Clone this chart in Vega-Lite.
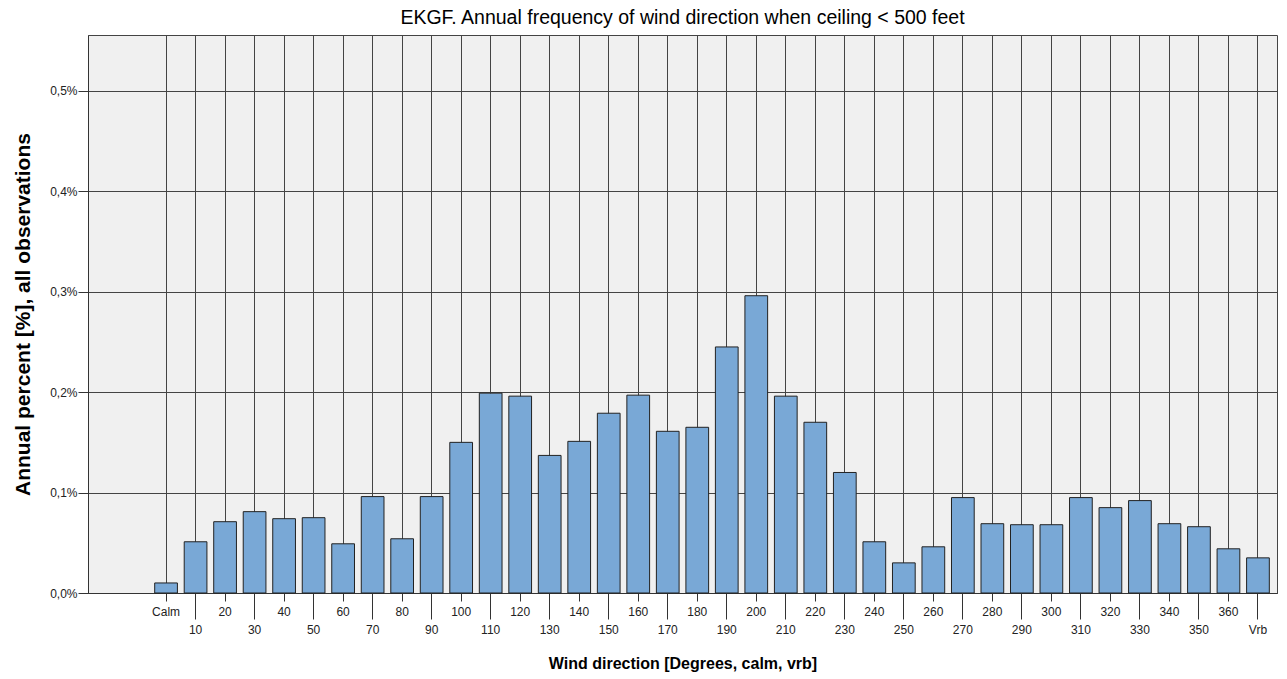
{
  "$schema": "https://vega.github.io/schema/vega-lite/v6.json",
  "autosize": {"type": "none"},
  "padding": {"left": 88, "top": 35, "right": 10, "bottom": 86},
  "width": 1189,
  "height": 558,
  "background": "white",
  "title": {
    "text": "EKGF. Annual frequency of wind direction when ceiling < 500 feet",
    "font": "Liberation Sans",
    "fontSize": 19.5,
    "fontWeight": "normal",
    "color": "#000000",
    "anchor": "middle",
    "offset": 7
  },
  "config": {
    "view": {"fill": "#f0f0f0", "stroke": "#444444", "strokeWidth": 1},
    "axis": {
      "labelFont": "Liberation Sans",
      "labelFontSize": 12,
      "labelColor": "#222222",
      "titleFont": "Liberation Sans",
      "titleFontWeight": "bold",
      "titleColor": "#000000",
      "domainColor": "#333333",
      "tickColor": "#333333",
      "gridColor": "#444444",
      "gridOpacity": 1,
      "gridWidth": 1
    }
  },
  "data": {
    "values": [
      {"dir": "Calm", "pct": 0.010},
      {"dir": "10", "pct": 0.051},
      {"dir": "20", "pct": 0.071},
      {"dir": "30", "pct": 0.081},
      {"dir": "40", "pct": 0.074},
      {"dir": "50", "pct": 0.075},
      {"dir": "60", "pct": 0.049},
      {"dir": "70", "pct": 0.096},
      {"dir": "80", "pct": 0.054},
      {"dir": "90", "pct": 0.096},
      {"dir": "100", "pct": 0.150},
      {"dir": "110", "pct": 0.199},
      {"dir": "120", "pct": 0.196},
      {"dir": "130", "pct": 0.137},
      {"dir": "140", "pct": 0.151},
      {"dir": "150", "pct": 0.179},
      {"dir": "160", "pct": 0.197},
      {"dir": "170", "pct": 0.161},
      {"dir": "180", "pct": 0.165},
      {"dir": "190", "pct": 0.245},
      {"dir": "200", "pct": 0.296},
      {"dir": "210", "pct": 0.196},
      {"dir": "220", "pct": 0.170},
      {"dir": "230", "pct": 0.120},
      {"dir": "240", "pct": 0.051},
      {"dir": "250", "pct": 0.030},
      {"dir": "260", "pct": 0.046},
      {"dir": "270", "pct": 0.095},
      {"dir": "280", "pct": 0.069},
      {"dir": "290", "pct": 0.068},
      {"dir": "300", "pct": 0.068},
      {"dir": "310", "pct": 0.095},
      {"dir": "320", "pct": 0.085},
      {"dir": "330", "pct": 0.092},
      {"dir": "340", "pct": 0.069},
      {"dir": "350", "pct": 0.066},
      {"dir": "360", "pct": 0.044},
      {"dir": "Vrb", "pct": 0.035}
    ]
  },
  "mark": {"type": "bar", "fill": "#79a8d6", "stroke": "#222222", "strokeWidth": 1},
  "encoding": {
    "x": {
      "field": "dir",
      "type": "nominal",
      "scale": {
        "domain": ["_a", "_b", "Calm", "10", "20", "30", "40", "50", "60", "70", "80", "90", "100", "110", "120", "130", "140", "150", "160", "170", "180", "190", "200", "210", "220", "230", "240", "250", "260", "270", "280", "290", "300", "310", "320", "330", "340", "350", "360", "Vrb"],
        "paddingInner": 0.23,
        "paddingOuter": 0.26
      },
      "axis": {
        "title": "Wind direction [Degrees, calm, vrb]",
        "titleFontSize": 16,
        "titlePadding": 20,
        "labelAngle": 0,
        "labelBaseline": "top",
        "labelPadding": 5,
        "labelOverlap": false,
        "grid": true,
        "gridOpacity": {"condition": {"test": "datum.value == '_a' || datum.value == '_b'", "value": 0}, "value": 1},
        "tickOpacity": {"condition": {"test": "datum.value == '_a' || datum.value == '_b'", "value": 0}, "value": 1},
        "tickSize": {"condition": {"test": "datum.value == 'Vrb' || toNumber(datum.value) % 20 == 10", "value": 26}, "value": 8},
        "labelExpr": "(datum.value == '_a' || datum.value == '_b') ? '' : datum.value"
      }
    },
    "y": {
      "field": "pct",
      "type": "quantitative",
      "scale": {"domain": [0, 0.5556], "nice": false, "zero": true},
      "axis": {
        "title": "Annual percent [%], all observations",
        "titleFontSize": 21,
        "values": [0, 0.1, 0.2, 0.3, 0.4, 0.5],
        "tickSize": 10,
        "labelPadding": 1,
        "titlePadding": 16,
        "grid": true,
        "labelExpr": "replace(format(datum.value, '.1f'), '.', ',') + '%'"
      }
    }
  }
}
